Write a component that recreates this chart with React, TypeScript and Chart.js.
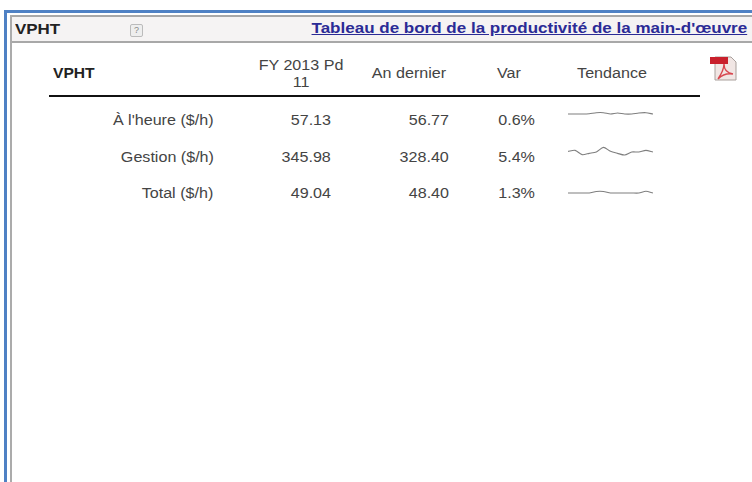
import React, { useEffect, useRef } from "react";
import { Chart, registerables } from "chart.js";

Chart.register(...registerables);

const title = "Tableau de bord de la productivité de la main-d'œuvre";
const periods = ["1", "2", "3", "4", "5", "6", "7", "8", "9", "10", "11", "12", "13"];
const rowLabels = ["À l'heure ($/h)", "Gestion ($/h)", "Total ($/h)"];
const current = ["57.13", "345.98", "49.04"];
const lastYear = ["56.77", "328.40", "48.40"];
const variance = ["0.6%", "5.4%", "1.3%"];
const trendHourly = [56.8, 56.8, 56.8, 56.83, 56.93, 56.93, 56.8, 56.9, 56.8, 56.8, 56.9, 56.93, 56.8];
const trendManagement = [329.3, 331.3, 322.7, 325.3, 328, 337.3, 329.3, 325.3, 322, 328, 328, 331.3, 328];
const trendTotal = [48.4, 48.4, 48.4, 48.4, 48.55, 48.55, 48.4, 48.4, 48.4, 48.4, 48.4, 48.57, 48.4];
const trendRanges: [number, number][] = [[55.2, 58.4], [296, 360], [46.8, 50]];
const trends = [trendHourly, trendManagement, trendTotal];

const font = "'Liberation Sans', Arial, sans-serif";
const ROW_Y = [120, 157, 193];
const SPARK_Y = [114.3, 151.7, 192.8];

function Spark({ values, range, y }: { values: number[]; range: [number, number]; y: number }) {
  const ref = useRef<HTMLCanvasElement>(null);
  useEffect(() => {
    const chart = new Chart(ref.current!, {
      type: "line",
      data: {
        labels: periods,
        datasets: [{ data: values, borderColor: "#7f7f7f", borderWidth: 1.1, pointRadius: 0, tension: 0.25 }],
      },
      options: {
        animation: false,
        responsive: false,
        events: [],
        layout: { padding: 0 },
        plugins: { legend: { display: false }, tooltip: { enabled: false } },
        scales: {
          x: { display: false, offset: false },
          y: { display: false, min: range[0], max: range[1] },
        },
      },
    });
    return () => chart.destroy();
  }, []);
  return (
    <canvas
      ref={ref}
      width={85}
      height={32}
      style={{ position: "absolute", left: 568, top: y - 16, width: 85, height: 32 }}
    />
  );
}

function Txt({ x, y, align, sx = 1.15, children, style }: any) {
  const pos =
    align === "right"
      ? { right: 752 - x, transformOrigin: "right center" }
      : align === "center"
      ? { left: x - 100, width: 200, textAlign: "center" as const, transformOrigin: "center center" }
      : { left: x, transformOrigin: "left center" };
  return (
    <div
      style={{
        position: "absolute",
        top: y - 9,
        height: 18,
        lineHeight: "18px",
        fontSize: 14,
        color: "#444",
        whiteSpace: "nowrap",
        transform: `scaleX(${sx})`,
        ...pos,
        ...style,
      }}
    >
      {children}
    </div>
  );
}

export default function App() {
  return (
    <div
      style={{
        position: "fixed",
        left: 0,
        top: 0,
        width: 752,
        height: 482,
        background: "#fff",
        overflow: "hidden",
        fontFamily: font,
        filter: "blur(0.35px)",
      }}
    >
      {/* outer blue frame */}
      <div style={{ position: "absolute", left: 4, top: 10, width: 748, height: 3, background: "#4f81c4" }} />
      <div style={{ position: "absolute", left: 4, top: 10, width: 3, height: 472, background: "#4f81c4" }} />
      {/* grey panel */}
      <div style={{ position: "absolute", left: 10, top: 15, width: 742, height: 27, background: "#f5f3f3" }} />
      <div style={{ position: "absolute", left: 10, top: 15, width: 742, height: 1.5, background: "#a8a8a8" }} />
      <div style={{ position: "absolute", left: 10, top: 41, width: 742, height: 1.5, background: "#a8a8a8" }} />
      <div style={{ position: "absolute", left: 10, top: 15, width: 2, height: 467, background: "#ababab" }} />

      <Txt x={15} y={29} sx={1.13} style={{ fontSize: 15, fontWeight: 700, color: "#222" }}>VPHT</Txt>
      <div
        style={{
          position: "absolute",
          left: 130,
          top: 24,
          width: 11,
          height: 11,
          border: "1px solid #bbb",
          borderRadius: 2,
          background: "#eee",
          color: "#888",
          fontSize: 9,
          lineHeight: "11px",
          textAlign: "center",
        }}
      >
        ?
      </div>
      <Txt
        x={747}
        y={28}
        align="right"
        sx={1.134}
        style={{ fontSize: 15, fontWeight: 700, color: "#2b2b96", textDecoration: "underline" }}
      >
        {title}
      </Txt>

      <Txt x={53} y={73} sx={1.115} style={{ fontWeight: 700, color: "#222" }}>VPHT</Txt>
      <Txt x={301} y={65} align="center">FY 2013 Pd</Txt>
      <Txt x={301} y={82} align="center">11</Txt>
      <Txt x={409} y={73} align="center">An dernier</Txt>
      <Txt x={509} y={73} align="center">Var</Txt>
      <Txt x={612} y={73} align="center">Tendance</Txt>
      <div style={{ position: "absolute", left: 49, top: 95, width: 651, height: 1.5, background: "#111" }} />

      {/* PDF icon */}
      <svg style={{ position: "absolute", left: 710, top: 55 }} width="27" height="26" viewBox="0 0 27 26">
        <path d="M5 2H21L26 7V25H5Z" fill="#f1e6e4" stroke="#a9a09c" />
        <rect x="0" y="2" width="18" height="7" fill="#c9202c" />
        <path d="M8 24C12 18 14 13 14 9C14 14 17 18 23 19C17 18 12 20 8 24Z" fill="none" stroke="#d8474f" strokeWidth="1.4" />
      </svg>

      {rowLabels.map((label, i) => (
        <React.Fragment key={label}>
          <Txt x={213.5} y={ROW_Y[i]} align="right">{label}</Txt>
          <Txt x={331} y={ROW_Y[i]} align="right">{current[i]}</Txt>
          <Txt x={449} y={ROW_Y[i]} align="right">{lastYear[i]}</Txt>
          <Txt x={535} y={ROW_Y[i]} align="right">{variance[i]}</Txt>
          <Spark values={trends[i]} range={trendRanges[i]} y={SPARK_Y[i]} />
        </React.Fragment>
      ))}
    </div>
  );
}
